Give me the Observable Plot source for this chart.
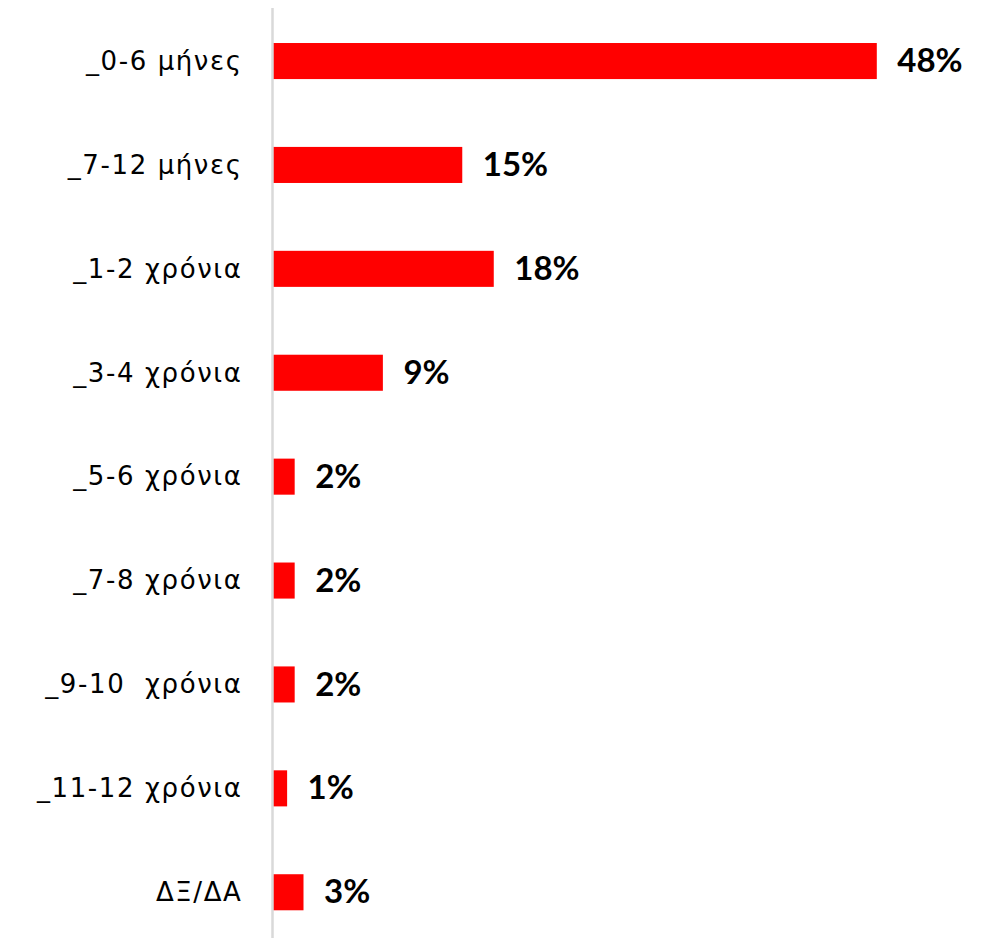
<!DOCTYPE html>
<html>
<head>
<meta charset="utf-8">
<script src="https://cdn.jsdelivr.net/npm/d3@7"></script>
<script src="https://cdn.jsdelivr.net/npm/@observablehq/plot@0.6"></script>
<style>
  html, body { margin: 0; padding: 0; background: #fff; }
  #chart svg { display: block; }
  #chart g[aria-label="y-axis tick label"] text { letter-spacing: 1.6px; }
</style>
</head>
<body>
<div id="chart"></div>
<script>
const categories = ["_0-6 μήνες", "_7-12 μήνες", "_1-2 χρόνια", "_3-4 χρόνια", "_5-6 χρόνια", "_7-8 χρόνια", "_9-10  χρόνια", "_11-12 χρόνια", "ΔΞ/ΔΑ"];
const values = [48, 15.1, 17.6, 8.8, 1.8, 1.8, 1.8, 1.2, 2.5];
const valueLabels = ["48%", "15%", "18%", "9%", "2%", "2%", "2%", "1%", "3%"];

const data = categories.map((c, i) => ({cat: c, value: values[i], label: valueLabels[i]}));

const chart = Plot.plot({
  width: 985,
  height: 938,
  marginTop: 8,
  marginBottom: 0,
  marginLeft: 272,
  marginRight: 8,
  style: {fontFamily: "Lato, 'Open Sans', sans-serif", background: "#fff"},
  x: {domain: [0, 56], range: [272, 272 + 56 * 12.6], axis: null},
  y: {domain: categories, range: [8, 945.3], round: false, paddingInner: 0.653, paddingOuter: 0.337, label: null, tickSize: 0, tickPadding: 30},
  marks: [
    Plot.axisY({tickSize: 0, tickPadding: 30, fontSize: 26, fontFamily: "'DejaVu Sans', sans-serif", label: null, fill: "#000"}),
    Plot.barX(data, {x: "value", y: "cat", fill: "#ff0000"}),
    Plot.ruleX([0], {stroke: "#d9d9d9", strokeWidth: 2.5}),
    Plot.text(data, {x: "value", y: "cat", text: "label", textAnchor: "start", dx: 20, fontSize: 33, fontWeight: "bold", fill: "#000"})
  ]
});
document.getElementById("chart").appendChild(chart);
</script>
</body>
</html>
